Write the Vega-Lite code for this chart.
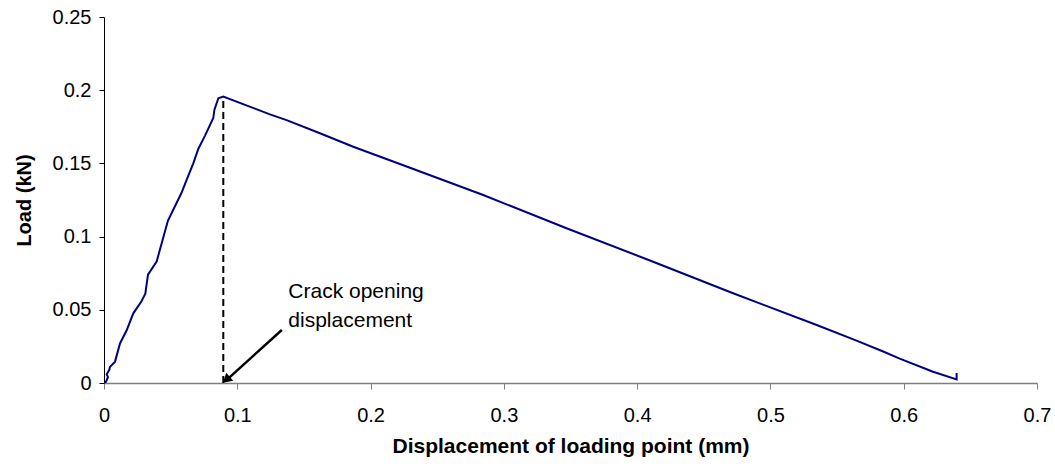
{
  "$schema": "https://vega.github.io/schema/vega-lite/v6.json",
  "autosize": "none",
  "width": 933,
  "height": 366,
  "padding": {"left": 104, "top": 17, "right": 18, "bottom": 93},
  "background": "white",
  "config": {
    "view": {"stroke": null},
    "font": "Liberation Sans",
    "axis": {"grid": false, "labelFont": "Liberation Sans", "titleFont": "Liberation Sans", "labelColor": "#000", "titleColor": "#000"}
  },
  "datasets": {
    "curve": [
      {"i": 0, "d": 0.001, "load": 0.0},
      {"i": 1, "d": 0.003, "load": 0.004},
      {"i": 2, "d": 0.002, "load": 0.006},
      {"i": 3, "d": 0.004, "load": 0.009},
      {"i": 4, "d": 0.0045, "load": 0.011},
      {"i": 5, "d": 0.0083, "load": 0.0146},
      {"i": 6, "d": 0.012, "load": 0.027},
      {"i": 7, "d": 0.017, "load": 0.036},
      {"i": 8, "d": 0.022, "load": 0.0476},
      {"i": 9, "d": 0.028, "load": 0.0556},
      {"i": 10, "d": 0.031, "load": 0.061},
      {"i": 11, "d": 0.033, "load": 0.074},
      {"i": 12, "d": 0.0395, "load": 0.083},
      {"i": 13, "d": 0.048, "load": 0.111},
      {"i": 14, "d": 0.058, "load": 0.1296},
      {"i": 15, "d": 0.062, "load": 0.1387},
      {"i": 16, "d": 0.067, "load": 0.150},
      {"i": 17, "d": 0.0708, "load": 0.160},
      {"i": 18, "d": 0.0758, "load": 0.169},
      {"i": 19, "d": 0.082, "load": 0.181},
      {"i": 20, "d": 0.0828, "load": 0.1865},
      {"i": 21, "d": 0.0858, "load": 0.1945},
      {"i": 22, "d": 0.0895, "load": 0.1956},
      {"i": 23, "d": 0.1058, "load": 0.190},
      {"i": 24, "d": 0.1245, "load": 0.1835},
      {"i": 25, "d": 0.137, "load": 0.1796},
      {"i": 26, "d": 0.162, "load": 0.1706},
      {"i": 27, "d": 0.187, "load": 0.1614},
      {"i": 28, "d": 0.222, "load": 0.1496},
      {"i": 29, "d": 0.2845, "load": 0.1284},
      {"i": 30, "d": 0.347, "load": 0.1057},
      {"i": 31, "d": 0.4096, "load": 0.0837},
      {"i": 32, "d": 0.472, "load": 0.0613},
      {"i": 33, "d": 0.5347, "load": 0.0396},
      {"i": 34, "d": 0.5646, "load": 0.0289},
      {"i": 35, "d": 0.5846, "load": 0.0215},
      {"i": 36, "d": 0.597, "load": 0.0166},
      {"i": 37, "d": 0.622, "load": 0.0077},
      {"i": 38, "d": 0.6397, "load": 0.0025},
      {"i": 39, "d": 0.6397, "load": 0.0068}
    ],
    "labels": [
      {"d": 0.1383, "load": 0.058, "label": "Crack opening"},
      {"d": 0.1383, "load": 0.0383, "label": "displacement"}
    ]
  },
  "layer": [
    {
      "data": {"name": "curve"},
      "mark": {"type": "line", "color": "#000080", "strokeWidth": 2, "clip": true},
      "encoding": {
        "x": {
          "field": "d", "type": "quantitative",
          "scale": {"domain": [0, 0.7], "nice": false, "zero": false},
          "axis": {
            "title": "Displacement of loading point (mm)",
            "values": [0, 0.1, 0.2, 0.3, 0.4, 0.5, 0.6, 0.7],
            "format": "~g",
            "labelFontSize": 20,
            "titleFontSize": 21,
            "titleFontWeight": "bold",
            "domainColor": "#808080",
            "tickColor": "#808080",
            "domainWidth": 1.5,
            "tickSize": 6,
            "labelPadding": 16,
            "titlePadding": 10,
            "labelFlush": false
          }
        },
        "y": {
          "field": "load", "type": "quantitative",
          "scale": {"domain": [0, 0.25], "nice": false},
          "axis": {
            "title": "Load (kN)",
            "values": [0, 0.05, 0.1, 0.15, 0.2, 0.25],
            "format": "~g",
            "labelFontSize": 20,
            "titleFontSize": 20,
            "titleFontWeight": "bold",
            "domainColor": "#000",
            "tickColor": "#000",
            "tickSize": 5,
            "labelPadding": 8,
            "titlePadding": 18,
            "labelFlush": false
          }
        },
        "order": {"field": "i", "type": "quantitative"}
      }
    },
    {
      "data": {"values": [{"d": 0.0895, "y0": 0, "y1": 0.1956}]},
      "mark": {"type": "rule", "color": "#000", "strokeWidth": 2, "strokeDash": [7, 4]},
      "encoding": {
        "x": {"field": "d", "type": "quantitative"},
        "y": {"field": "y0", "type": "quantitative"},
        "y2": {"field": "y1"}
      }
    },
    {
      "data": {"values": [{"x0": 0.1334, "y0": 0.0362, "x1": 0.0925, "y1": 0.0025}]},
      "mark": {"type": "rule", "color": "#000", "strokeWidth": 2.5},
      "encoding": {
        "x": {"field": "x0", "type": "quantitative"},
        "y": {"field": "y0", "type": "quantitative"},
        "x2": {"field": "x1"},
        "y2": {"field": "y1"}
      }
    },
    {
      "data": {"values": [{"x": 0.0918, "y": 0.0022}]},
      "mark": {"type": "point", "shape": "triangle-up", "filled": true, "color": "#000", "opacity": 1, "size": 110, "angle": 228},
      "encoding": {
        "x": {"field": "x", "type": "quantitative"},
        "y": {"field": "y", "type": "quantitative"}
      }
    },
    {
      "data": {"name": "labels"},
      "mark": {"type": "text", "align": "left", "baseline": "alphabetic", "fontSize": 21, "font": "Liberation Sans", "color": "#000"},
      "encoding": {
        "x": {"field": "d", "type": "quantitative"},
        "y": {"field": "load", "type": "quantitative"},
        "text": {"field": "label"}
      }
    }
  ]
}
